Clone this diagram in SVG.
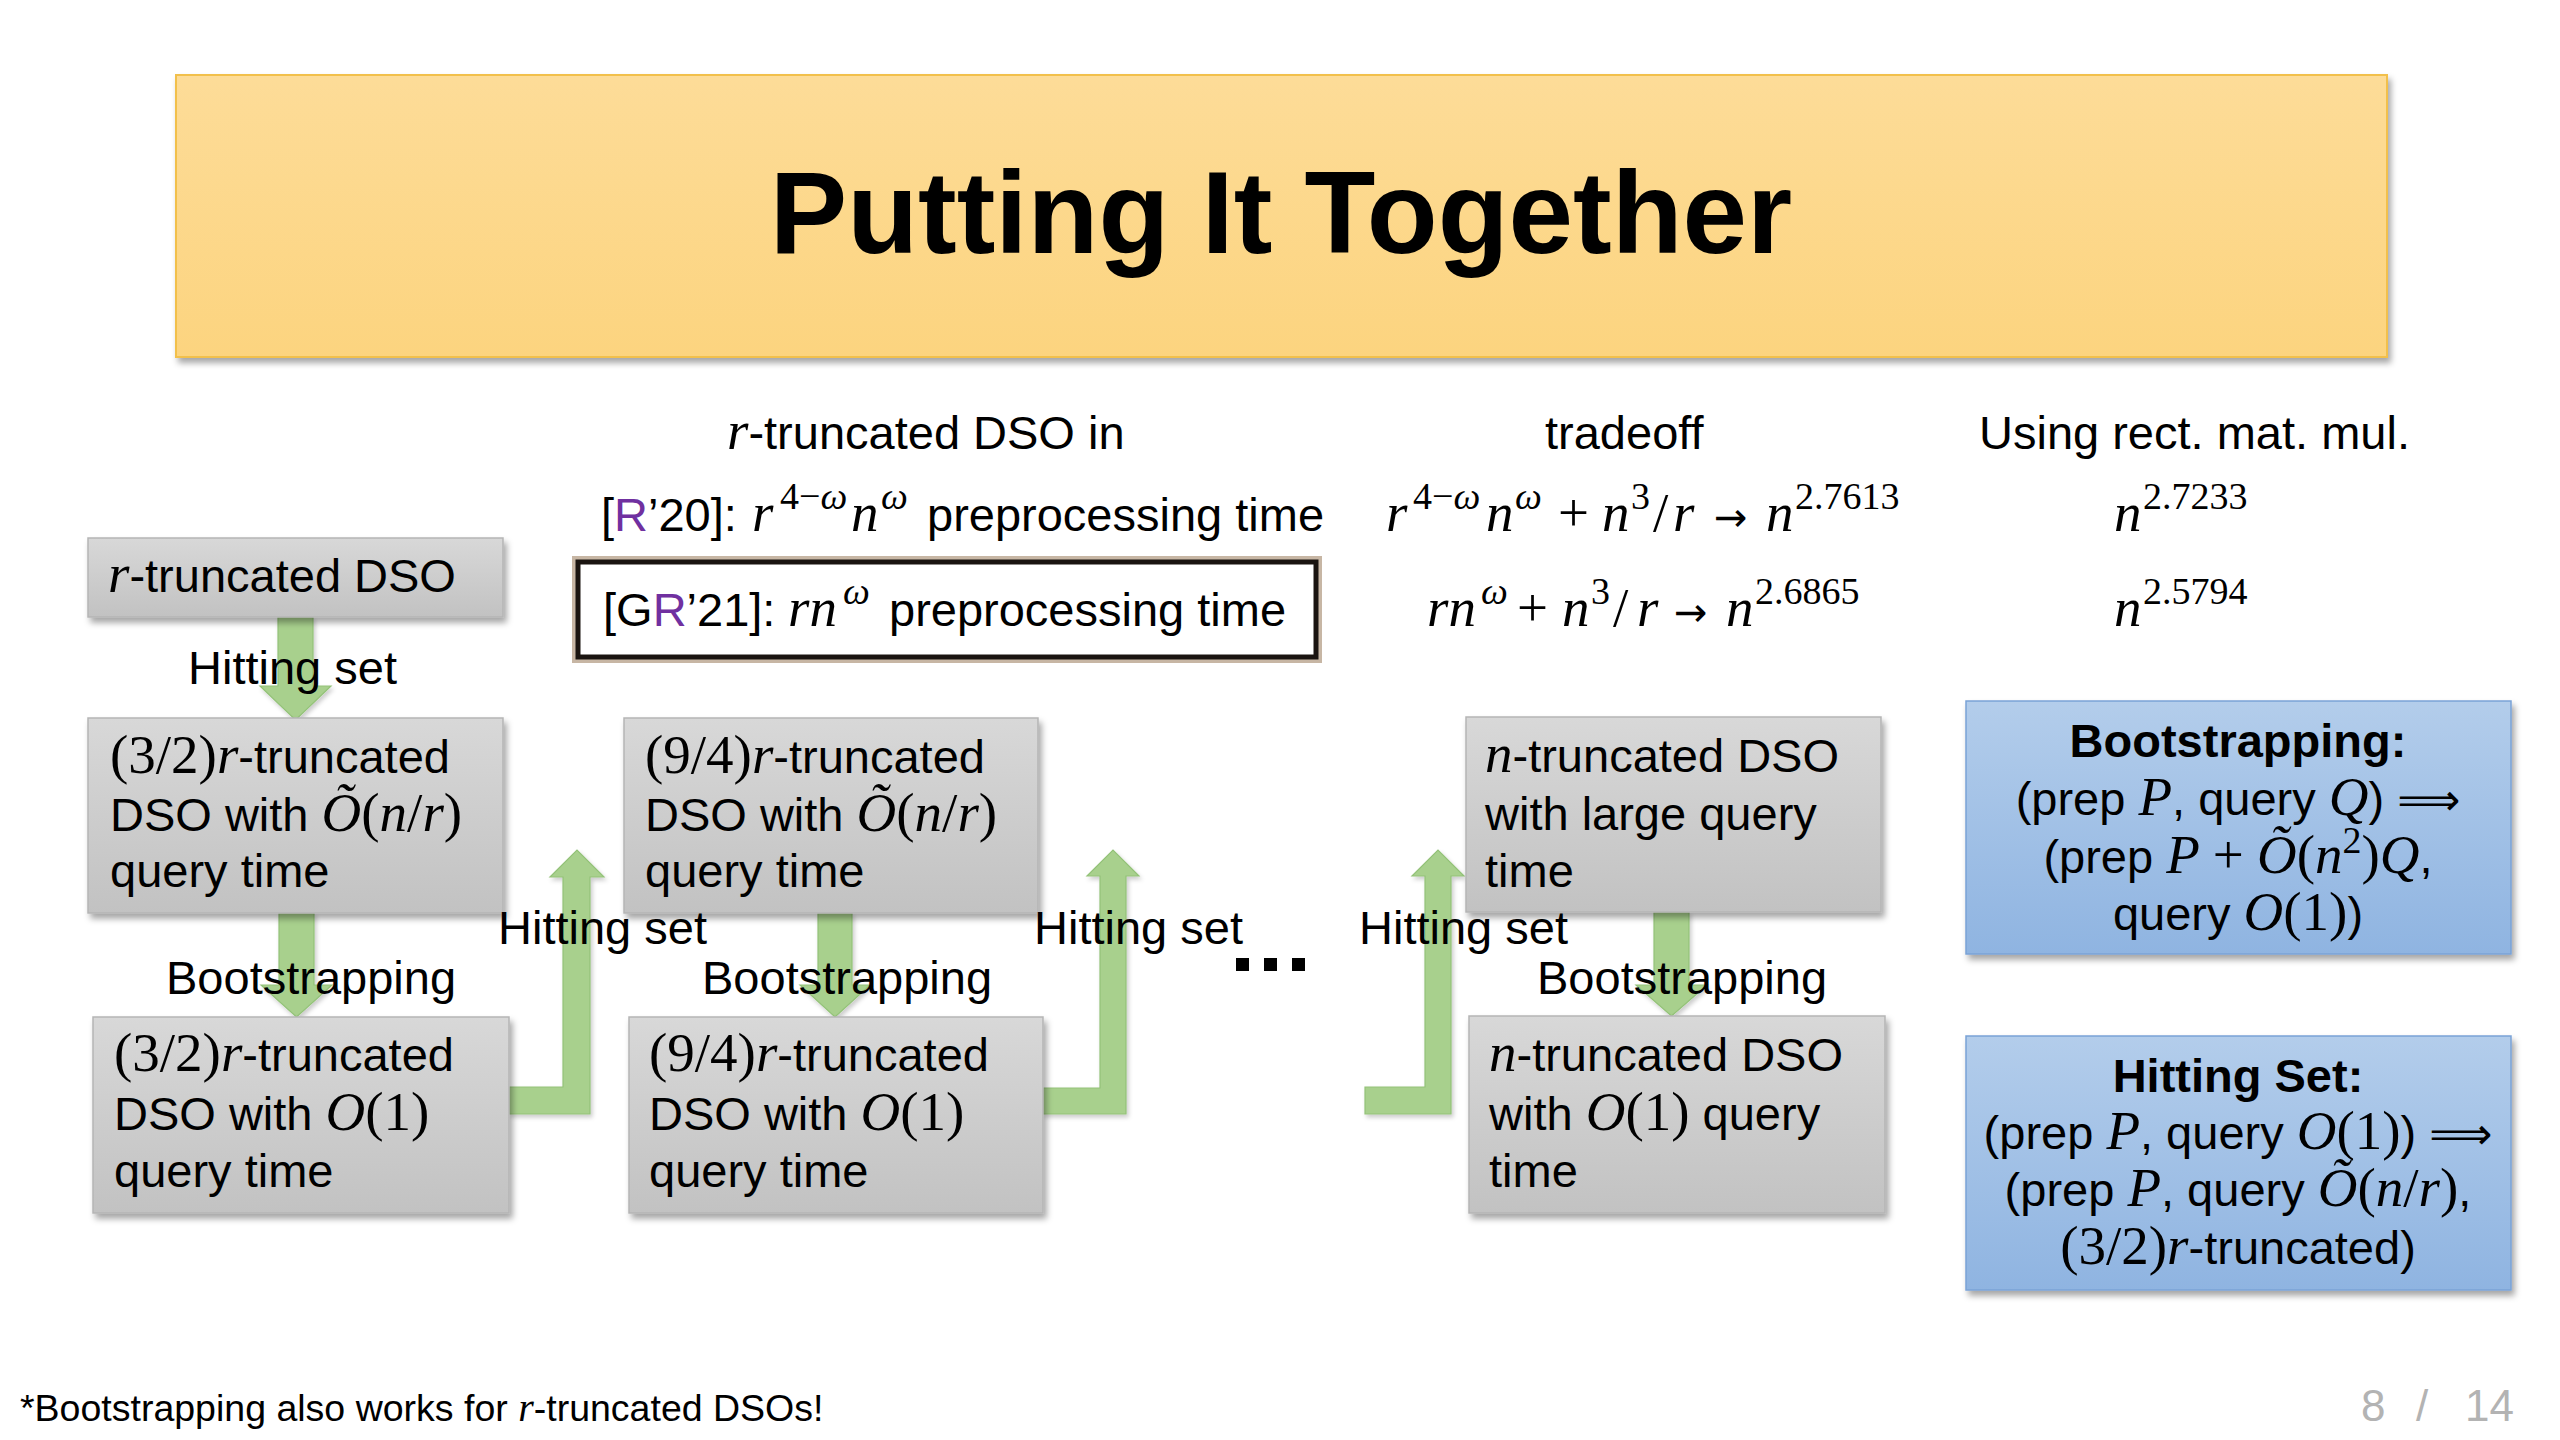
<svg xmlns="http://www.w3.org/2000/svg" width="2560" height="1440" viewBox="0 0 2560 1440">
<defs>
<style>
.t{font-family:"Liberation Sans",Arial,sans-serif;font-size:47px;fill:#000}
.b{font-family:"Liberation Sans",Arial,sans-serif;font-weight:bold;fill:#000}
.mi{font-family:"Liberation Serif","Times New Roman",serif;font-style:italic;font-size:55px}
.mn{font-family:"Liberation Serif","Times New Roman",serif;font-style:normal;font-size:55px}
.sup{font-size:38px}
.ar{font-family:"DejaVu Sans",sans-serif;font-style:normal;font-size:44px}
.to{font-family:"DejaVu Sans",sans-serif;font-style:normal;font-size:40px}
.gray{fill:url(#gGray);stroke:#B5B5B5;stroke-width:1.5;filter:url(#sh)}
.blue{fill:url(#gBlue);stroke:#7AA3D6;stroke-width:1.5;filter:url(#sh)}
.arrow{fill:#A8D08D;stroke:#93C278;stroke-width:1.2;filter:url(#shs)}
.foot{font-size:37.5px}
.footm{font-size:40px}
</style>
<linearGradient id="gGray" x1="0" y1="0" x2="0" y2="1"><stop offset="0" stop-color="#D8D8D8"/><stop offset="1" stop-color="#C2C2C2"/></linearGradient>
<linearGradient id="gBlue" x1="0" y1="0" x2="0" y2="1"><stop offset="0" stop-color="#B3CDEB"/><stop offset="1" stop-color="#8FB4E1"/></linearGradient>
<linearGradient id="gTitle" x1="0" y1="0" x2="0" y2="1"><stop offset="0" stop-color="#FDDC98"/><stop offset="1" stop-color="#FCD47F"/></linearGradient>
<filter id="sh" x="-5%" y="-10%" width="115%" height="130%"><feDropShadow dx="3" dy="5" stdDeviation="3" flood-color="#000" flood-opacity="0.35"/></filter>
<filter id="shs" x="-20%" y="-10%" width="140%" height="130%"><feDropShadow dx="2" dy="3" stdDeviation="2" flood-color="#000" flood-opacity="0.2"/></filter>
</defs>
<rect width="2560" height="1440" fill="#fff"/>

<g id="title">
<rect x="176" y="75" width="2211" height="282" fill="url(#gTitle)" stroke="#F2C04C" stroke-width="2" filter="url(#sh)"/>
<text class="b" x="1281" y="253" font-size="116" text-anchor="middle">Putting It Together</text>
</g>

<g id="headers">
<text class="t" y="449"><tspan class="mi" x="727">r</tspan><tspan>-truncated DSO in</tspan></text>
<text class="t" x="1545" y="449">tradeoff</text>
<text class="t" x="1979" y="449">Using rect. mat. mul.</text>
</g>

<g id="row-r20">
<text class="t" y="531"><tspan x="601">[</tspan><tspan fill="#7030A0">R</tspan><tspan>’20]:</tspan><tspan class="mi" x="752">r</tspan><tspan class="mn sup" x="780" y="509">4−</tspan><tspan class="mi sup">ω</tspan><tspan class="mi" x="851" y="531">n</tspan><tspan class="mi sup" x="881" y="509">ω</tspan><tspan x="927" y="531">preprocessing time</tspan></text>
<text class="t" y="531"><tspan class="mi" x="1386">r</tspan><tspan class="mn sup" x="1413" y="509">4−</tspan><tspan class="mi sup">ω</tspan><tspan class="mi" x="1486" y="531">n</tspan><tspan class="mi sup" x="1515" y="509">ω</tspan><tspan class="mn" x="1558" y="531">+</tspan><tspan class="mi" x="1602">n</tspan><tspan class="mn sup" x="1631" y="509">3</tspan><tspan class="mn" x="1653" y="531">/</tspan><tspan class="mi" x="1673">r</tspan><tspan class="to" x="1714">→</tspan><tspan class="mi" x="1766">n</tspan><tspan class="mn sup" x="1795" y="509">2.7613</tspan></text>
<text class="t" y="531"><tspan class="mi" x="2114">n</tspan><tspan class="mn sup" x="2143" y="509">2.7233</tspan></text>
</g>

<g id="row-gr21">
<rect x="578" y="562" width="738" height="95" fill="none" stroke="#C7B6A4" stroke-width="12"/>
<rect x="578" y="562" width="738" height="95" fill="#fff" stroke="#1A1410" stroke-width="5"/>
<text class="t" y="626"><tspan x="603">[G</tspan><tspan fill="#7030A0">R</tspan><tspan>’21]:</tspan><tspan class="mi" x="788">rn</tspan><tspan class="mi sup" x="843" y="604">ω</tspan><tspan x="889" y="626">preprocessing time</tspan></text>
<text class="t" y="626"><tspan class="mi" x="1427">rn</tspan><tspan class="mi sup" x="1481" y="604">ω</tspan><tspan class="mn" x="1517" y="626">+</tspan><tspan class="mi" x="1562">n</tspan><tspan class="mn sup" x="1591" y="604">3</tspan><tspan class="mn" x="1613" y="626">/</tspan><tspan class="mi" x="1637">r</tspan><tspan class="to" x="1674">→</tspan><tspan class="mi" x="1726">n</tspan><tspan class="mn sup" x="1755" y="604">2.6865</tspan></text>
<text class="t" y="626"><tspan class="mi" x="2114">n</tspan><tspan class="mn sup" x="2143" y="604">2.5794</tspan></text>
</g>

<g id="connectors">
<path class="arrow" d="M278 617 H313 V686 H331 L295.5 720 L260 686 H278 Z"/>
<path class="arrow" d="M279 913 H314 V985 H332 L296.5 1017 L261 985 H279 Z"/>
<path class="arrow" d="M818 913 H852 V985 H870 L835 1017 L800 985 H818 Z"/>
<path class="arrow" d="M1654 912 H1689 V985 H1707 L1671.5 1016 L1636 985 H1654 Z"/>
<path class="arrow" d="M509 1087 H563 V877 H550 L577 850 L604 877 H590 V1114 H509 Z"/>
<path class="arrow" d="M1043 1088 H1100 V876 H1087 L1113 850 L1139 876 H1126 V1114 H1043 Z"/>
<path class="arrow" d="M1365 1087 H1425 V876 H1412 L1438 850 L1464 876 H1451 V1114 H1365 Z"/>
</g>

<g id="node-r-dso">
<rect class="gray" x="88" y="538" width="415" height="79"/>
<text class="t" y="592"><tspan class="mi" x="108">r</tspan><tspan>-truncated DSO</tspan></text>
</g>

<g id="node-32-otilde">
<rect class="gray" x="88" y="718" width="415" height="195"/>
<text class="t" x="110" y="773"><tspan class="mn">(3/2)</tspan><tspan class="mi">r</tspan><tspan>-truncated</tspan></text>
<text class="t" x="110" y="831">DSO with <tspan class="mi">Õ</tspan><tspan class="mn">(</tspan><tspan class="mi">n</tspan><tspan class="mn">/</tspan><tspan class="mi">r</tspan><tspan class="mn">)</tspan></text>
<text class="t" x="110" y="887">query time</text>
</g>

<g id="node-32-o1">
<rect class="gray" x="93" y="1017" width="416" height="196"/>
<text class="t" x="114" y="1071"><tspan class="mn">(3/2)</tspan><tspan class="mi">r</tspan><tspan>-truncated</tspan></text>
<text class="t" x="114" y="1130">DSO with <tspan class="mi">O</tspan><tspan class="mn">(1)</tspan></text>
<text class="t" x="114" y="1187">query time</text>
</g>

<g id="node-94-otilde">
<rect class="gray" x="624" y="718" width="414" height="195"/>
<text class="t" x="645" y="773"><tspan class="mn">(9/4)</tspan><tspan class="mi">r</tspan><tspan>-truncated</tspan></text>
<text class="t" x="645" y="831">DSO with <tspan class="mi">Õ</tspan><tspan class="mn">(</tspan><tspan class="mi">n</tspan><tspan class="mn">/</tspan><tspan class="mi">r</tspan><tspan class="mn">)</tspan></text>
<text class="t" x="645" y="887">query time</text>
</g>

<g id="node-94-o1">
<rect class="gray" x="629" y="1017" width="414" height="196"/>
<text class="t" x="649" y="1071"><tspan class="mn">(9/4)</tspan><tspan class="mi">r</tspan><tspan>-truncated</tspan></text>
<text class="t" x="649" y="1130">DSO with <tspan class="mi">O</tspan><tspan class="mn">(1)</tspan></text>
<text class="t" x="649" y="1187">query time</text>
</g>

<g id="node-n-large">
<rect class="gray" x="1466" y="717" width="415" height="195"/>
<text class="t" x="1485" y="772"><tspan class="mi">n</tspan><tspan>-truncated DSO</tspan></text>
<text class="t" x="1485" y="830">with large query</text>
<text class="t" x="1485" y="887">time</text>
</g>

<g id="node-n-o1">
<rect class="gray" x="1469" y="1016" width="416" height="197"/>
<text class="t" x="1489" y="1071"><tspan class="mi">n</tspan><tspan>-truncated DSO</tspan></text>
<text class="t" x="1489" y="1130">with <tspan class="mi">O</tspan><tspan class="mn">(1)</tspan> query</text>
<text class="t" x="1489" y="1187">time</text>
</g>

<g id="labels">
<text class="t" x="188" y="684">Hitting set</text>
<text class="t" x="166" y="994">Bootstrapping</text>
<text class="t" x="498" y="944">Hitting set</text>
<text class="t" x="702" y="994">Bootstrapping</text>
<text class="t" x="1034" y="944">Hitting set</text>
<text class="t" x="1359" y="944">Hitting set</text>
<text class="t" x="1537" y="994">Bootstrapping</text>
<g id="ellipsis" fill="#000">
<rect x="1236" y="958" width="13" height="13"/>
<rect x="1264" y="958" width="13" height="13"/>
<rect x="1292" y="958" width="13" height="13"/>
</g>
</g>

<g id="node-bootstrapping-def">
<rect class="blue" x="1966" y="701" width="545" height="253"/>
<text class="b" x="2238" y="757" font-size="47" text-anchor="middle">Bootstrapping:</text>
<text class="t" x="2238" y="815" text-anchor="middle">(prep <tspan class="mi">P</tspan>, query <tspan class="mi">Q</tspan>) <tspan class="ar">⟹</tspan></text>
<text class="t" x="2238" y="873" text-anchor="middle">(prep <tspan class="mi">P</tspan> <tspan class="mn">+</tspan> <tspan class="mi">Õ</tspan><tspan class="mn">(</tspan><tspan class="mi">n</tspan><tspan class="mn sup" dy="-20">2</tspan><tspan class="mn" dy="20">)</tspan><tspan class="mi">Q</tspan>,</text>
<text class="t" x="2238" y="930" text-anchor="middle">query <tspan class="mi">O</tspan><tspan class="mn">(1)</tspan>)</text>
</g>

<g id="node-hitting-set-def">
<rect class="blue" x="1966" y="1036" width="545" height="254"/>
<text class="b" x="2238" y="1092" font-size="47" text-anchor="middle">Hitting Set:</text>
<text class="t" x="2238" y="1149" text-anchor="middle">(prep <tspan class="mi">P</tspan>, query <tspan class="mi">O</tspan><tspan class="mn">(1)</tspan>) <tspan class="ar">⟹</tspan></text>
<text class="t" x="2238" y="1206" text-anchor="middle">(prep <tspan class="mi">P</tspan>, query <tspan class="mi">Õ</tspan><tspan class="mn">(</tspan><tspan class="mi">n</tspan><tspan class="mn">/</tspan><tspan class="mi">r</tspan><tspan class="mn">)</tspan>,</text>
<text class="t" x="2238" y="1264" text-anchor="middle"><tspan class="mn">(3/2)</tspan><tspan class="mi">r</tspan>-truncated)</text>
</g>

<g id="footer">
<text class="t foot" x="20" y="1421">*Bootstrapping also works for <tspan class="mi footm">r</tspan>-truncated DSOs!</text>
<g fill="#B3B3B3" font-family="Liberation Sans, Arial, sans-serif" font-size="44">
<text x="2361" y="1421">8</text>
<text x="2416" y="1421">/</text>
<text x="2465" y="1421">14</text>
</g>
</g>
</svg>
